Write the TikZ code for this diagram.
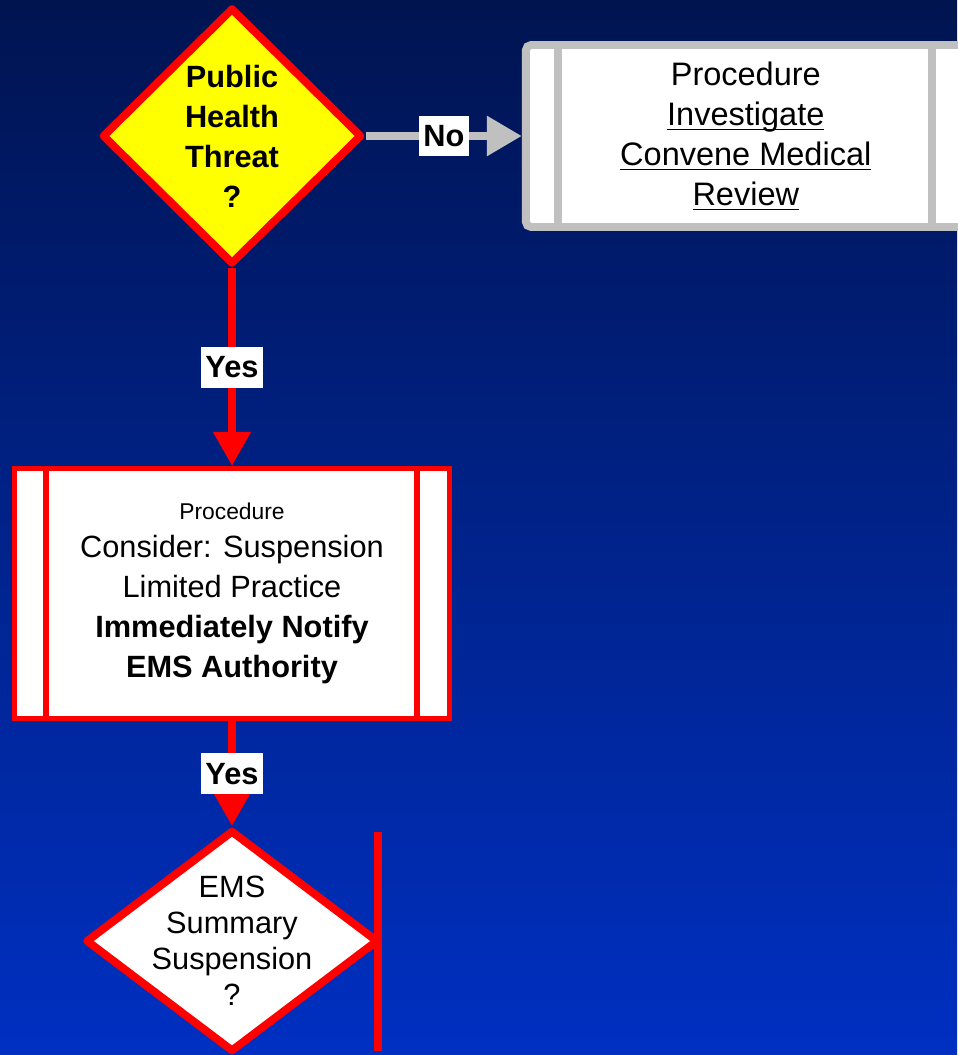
\documentclass[tikz,border=0pt]{standalone}
\usepackage{fontspec}
\setmainfont{Liberation Sans}
\usetikzlibrary{positioning, arrows.meta, shapes.geometric, calc}
\definecolor{Navy}{RGB}{0,20,80}
\definecolor{Midnight}{RGB}{0,34,150}
\definecolor{Royal}{RGB}{0,48,194}
\definecolor{Signal}{HTML}{FF0000}
\definecolor{Lemon}{HTML}{FFFF00}
\definecolor{Silver}{HTML}{C0C0C0}
\newcommand\uln[1]{\setbox0\hbox{#1}\rlap{\rule[-2.6pt]{\wd0}{0.7pt}}\box0}

\begin{document}
\begin{tikzpicture}[
    x=0.02cm, y=-0.02cm,
    every node/.style={font=\fontsize{17.5}{22.8}\selectfont},
    decision/.style={diamond, draw=Signal, line width=4.5pt, line join=round, inner sep=0pt},
    procbox/.style={rectangle, draw, fill=white, inner sep=0pt, align=center},
    tag/.style={fill=white, font=\fontsize{17.5}{20}\selectfont\bfseries, inner xsep=2.8pt, inner ysep=0pt, minimum height=0.82cm},
    redarr/.style={draw=Signal, line width=4.5pt, -{Triangle[length=0.68cm, width=0.72cm]}},
    grayarr/.style={draw=Silver, line width=5pt, -{Triangle[length=0.7cm, width=0.76cm]}}
]

% Background
\shade[top color=Navy, middle color=Midnight, bottom color=Royal] (0,0) rectangle (957,1055);
\useasboundingbox (0,0) rectangle (957,1055);

% Public health threat
\node[decision, fill=Lemon, minimum width=5.2cm, minimum height=5.14cm] (threat) at (232,136) {};
\node[font=\fontsize{17.5}{22.8}\selectfont\bfseries, align=center] (threattxt) at (threat) {
    Public\\
    Health\\
    Threat\\
    ?
};

% Investigate / medical review
\node[procbox, draw=Silver, line width=4.5pt, rounded corners=3pt, minimum width=8.8cm, minimum height=3.64cm, right=3.12cm of threat, font=\fontsize{18.5}{22.8}\selectfont] (review) {
    Procedure\\
    \uln{Investigate}\\
    \uln{Convene Medical}\\
    \uln{Review}
};
\draw[Silver, line width=4.5pt] ($(review.north west)+(36,0)$) -- ($(review.south west)+(36,0)$);
\draw[Silver, line width=4.5pt] ($(review.north east)+(-38,0)$) -- ($(review.south east)+(-38,0)$);

% Suspension procedure
\node[procbox, draw=Signal, line width=3pt, minimum width=8.7cm, minimum height=5.0cm, below=3.95cm of threat] (proc) {
    {\fontsize{13}{16}\selectfont Procedure}\\[-1.5pt]
    Consider: Suspension\\
    Limited Practice\\
    \textbf{Immediately Notify}\\
    \textbf{EMS Authority}
};
\draw[Signal, line width=3pt] ($(proc.north west)+(34,0)$) -- ($(proc.south west)+(34,0)$);
\draw[Signal, line width=3pt] ($(proc.north east)+(-35,0)$) -- ($(proc.south east)+(-35,0)$);

% EMS summary suspension
\node[decision, fill=white, minimum width=5.86cm, minimum height=4.44cm, below=2.1cm of proc] (summary) {};
\node[font=\fontsize{17.5}{20.5}\selectfont, align=center] (summarytxt) at (summary) {
    EMS\\
    Summary\\
    Suspension\\
    ?
};
\coordinate (bartop) at ($(summary.east)+(-4,-109)$);
\coordinate (barbot) at ($(summary.east)+(-4,110)$);
\draw[Signal, line width=4.5pt] (bartop) -- (barbot);

% Arrows
\draw[grayarr] (threat) -- node[tag] (no) {No} (review);
\draw[redarr] (threat) -- node[tag] (yes1) {Yes} (proc);
\draw[redarr] (proc) -- node[tag] (yes2) {Yes} (summary);

\end{tikzpicture}
\end{document}
